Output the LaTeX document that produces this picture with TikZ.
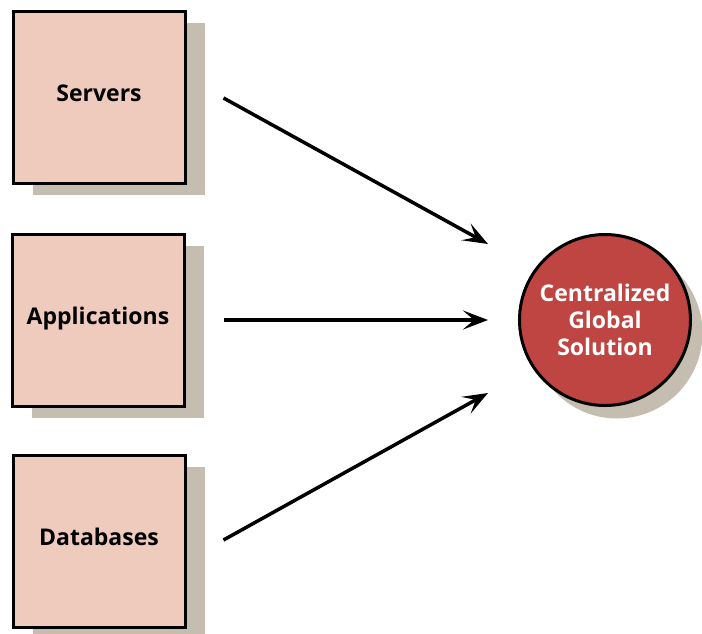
\documentclass[tikz,border=0pt]{standalone}
\usepackage{fontspec}
\setmainfont{Open Sans}
\usetikzlibrary{shadows,arrows.meta}

\definecolor{boxfill}{RGB}{239,203,190}
\definecolor{shadowgray}{RGB}{197,189,176}
\definecolor{solred}{RGB}{190,69,65}

\tikzset{
    source/.style = {
        draw,
        line width=3pt,
        fill=boxfill,
        minimum size=172pt,
        text height=17pt,
        text depth=8pt,
        font=\fontsize{23}{27}\selectfont\bfseries,
        drop shadow={shadow xshift=20pt, shadow yshift=-12pt, fill=shadowgray, opacity=1}
    },
    target/.style = {
        circle,
        draw,
        line width=3pt,
        fill=solred,
        text=white,
        minimum size=171pt,
        inner sep=0pt,
        align=center,
        font=\fontsize{23}{27}\selectfont\bfseries,
        drop shadow={shadow xshift=12pt, shadow yshift=-13pt, fill=shadowgray, opacity=1}
    },
    feed/.style = {
        line width=3.5pt,
        -{Stealth[length=25pt,width=19pt,inset=11pt]}
    }
}

\begin{document}
\begin{tikzpicture}[x=1pt,y=-1pt]
    \useasboundingbox (0,0) rectangle (702,633);

    % Draw the sources
    \node[source] (srv) at (99,97)  {Servers};
    \node[source] (app) at (98,320) {Applications};
    \node[source] (db)  at (99,541) {Databases};

    % Draw the solution
    \node[target] (sol) at (605,320) {Centralized\\Global\\Solution};

    % Arrow heads
    \coordinate (h1) at (488,244);
    \coordinate (h2) at (488,320);
    \coordinate (h3) at (488,393);

    % Draw arrows
    \draw[feed] ([xshift=37pt,yshift=-1pt]srv.east) -- (h1);
    \draw[feed] ([xshift=38pt]app.east) -- (h2);
    \draw[feed] ([xshift=37pt,yshift=1pt]db.east) -- (h3);
\end{tikzpicture}
\end{document}
